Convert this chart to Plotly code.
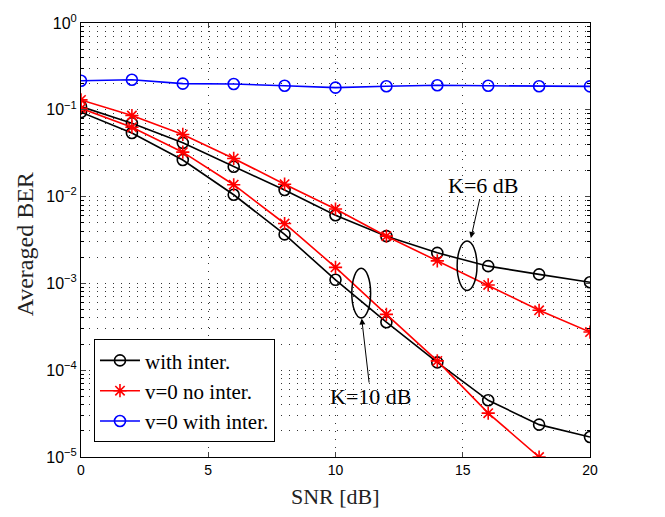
import plotly.graph_objects as go

snr = [0, 2, 4, 6, 8, 10, 12, 14, 16, 18, 20]

# K = 6 dB
inter_k6 = [0.109, 0.070, 0.0416, 0.0221, 0.0119, 0.0061, 0.0035, 0.00225, 0.00158, 0.00127, 0.00103]
noint_k6 = [0.130, 0.086, 0.052, 0.0275, 0.0139, 0.0072, 0.0035, 0.00182, 0.00096, 0.00049, 0.000275]
# K = 10 dB
inter_k10 = [0.094, 0.054, 0.0264, 0.0105, 0.00367, 0.0011, 0.000357, 0.000123, 4.5e-5, 2.36e-5, 1.7e-5]
noint_k10 = [0.104, 0.063, 0.0325, 0.0137, 0.0049, 0.00153, 0.00044, 0.000128, 3.2e-5, 1.0e-5, None]
# v = 0 with interference
v0_inter = [0.216, 0.222, 0.200, 0.198, 0.189, 0.180, 0.187, 0.192, 0.189, 0.187, 0.186]

y_tickvals = [1e-5, 1e-4, 1e-3, 1e-2, 1e-1, 1]
y_ticktext = ["10<sup>−5</sup>", "10<sup>−4</sup>", "10<sup>−3</sup>", "10<sup>−2</sup>", "10<sup>−1</sup>", "10<sup>0</sup>"]
y_minor = [k * 10 ** d for d in range(-5, 0) for k in range(2, 10)]
x_tickvals = [0, 5, 10, 15, 20]

SERIF = "Liberation Serif, Times New Roman, serif"
SANS = "Liberation Sans, Arial, sans-serif"

fig = go.Figure()

def add(y, name, color, symbol, show):
    fig.add_trace(go.Scatter(
        x=snr, y=y, name=name, legendgroup=name, showlegend=show,
        mode="lines+markers",
        line=dict(color=color, width=1.6),
        marker=dict(symbol=symbol, size=11, color=color,
                    line=dict(color=color, width=1.6)),
    ))

add(inter_k6, "with inter.", "black", "circle-open", True)
add(inter_k10, "with inter.", "black", "circle-open", False)
add(noint_k6, "v=0 no inter.", "red", "asterisk-open", True)
add(noint_k10, "v=0 no inter.", "red", "asterisk-open", False)
add(v0_inter, "v=0 with inter.", "blue", "circle-open", True)

# ellipses grouping the curves
fig.add_shape(type="circle", xref="x", yref="y", x0=14.78, x1=15.56, y0=8.28e-4, y1=3.08e-3,
              line=dict(color="black", width=1.5))
fig.add_shape(type="circle", xref="x", yref="y", x0=10.64, x1=11.38, y0=4.0e-4, y1=1.49e-3,
              line=dict(color="black", width=1.5))

fig.add_annotation(x=15.32, y=-2.477, xref="x", yref="y", text="K=6 dB",
                   ax=12, ay=-53, showarrow=True, arrowhead=2, arrowsize=1.2, arrowwidth=1,
                   arrowcolor="black", font=dict(family=SERIF, size=22, color="black"))
fig.add_annotation(x=11.03, y=-3.405, xref="x", yref="y", text="K=10 dB",
                   ax=9, ay=78, showarrow=True, arrowhead=2, arrowsize=1.2, arrowwidth=1,
                   arrowcolor="black", font=dict(family=SERIF, size=22, color="black"))

# axis titles
fig.add_annotation(x=0.5, y=-0.09, xref="paper", yref="paper", text="SNR [dB]", showarrow=False,
                   yanchor="middle", font=dict(family=SERIF, size=22, color="#222"))
fig.add_annotation(x=-0.11, y=0.49, xref="paper", yref="paper", text="Averaged BER", showarrow=False,
                   textangle=-90, xanchor="center", font=dict(family=SERIF, size=24, color="#222"))

grid = dict(showgrid=True, gridcolor="#333", gridwidth=1, griddash="1px,7px")

fig.update_xaxes(range=[0, 20], tickvals=x_tickvals, ticks="inside", ticklen=5,
                 showline=True, linecolor="black", linewidth=1, mirror="ticks",
                 tickfont=dict(family=SANS, size=14, color="black"),
                 zeroline=False, **grid)
fig.update_yaxes(type="log", range=[-5, 0], tickvals=y_tickvals, ticktext=y_ticktext,
                 ticks="inside", ticklen=5,
                 showline=True, linecolor="black", linewidth=1, mirror="ticks",
                 tickfont=dict(family=SANS, size=16, color="black"),
                 minor=dict(tickmode="array", tickvals=y_minor, ticks="inside", ticklen=3,
                            tickcolor="black", **grid),
                 zeroline=False, **grid)

fig.update_layout(
    width=665, height=517,
    margin=dict(l=81, r=75, t=19, b=60),
    plot_bgcolor="white", paper_bgcolor="white",
    legend=dict(x=0.0255, y=0.034, xanchor="left", yanchor="bottom",
                bordercolor="black", borderwidth=1, bgcolor="white",
                font=dict(family=SERIF, size=21, color="black"),
                tracegroupgap=0, itemwidth=40),
    showlegend=True,
)

fig.write_html("out.html")
